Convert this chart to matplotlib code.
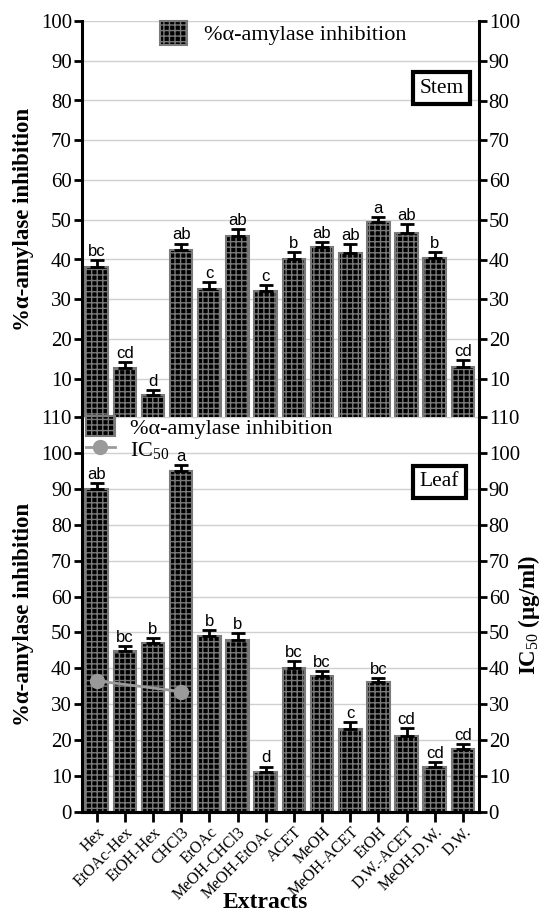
import numpy as np
import matplotlib
matplotlib.use("Agg")
import matplotlib.pyplot as plt
from matplotlib.patches import Patch
from matplotlib.lines import Line2D

extracts = ["Hex", "EtOAc-Hex", "EtOH-Hex", "CHCl3", "EtOAc", "MeOH-CHCl3",
            "MeOH-EtOAc", "ACET", "MeOH", "MeOH-ACET", "EtOH", "D.W.-ACET",
            "MeOH-D.W.", "D.W."]

stem_inhib = [38.0, 12.8, 5.8, 42.3, 32.7, 46.0, 32.2, 40.1, 43.2, 41.7, 49.5, 46.6, 40.3, 13.0]
stem_err = [1.8, 1.4, 1.4, 1.7, 1.6, 1.6, 1.4, 1.8, 1.2, 2.1, 1.2, 2.3, 1.5, 1.7]
stem_letters = ["bc", "cd", "d", "ab", "c", "ab", "c", "b", "ab", "ab", "a", "ab", "b", "cd"]

leaf_inhib = [89.9, 44.9, 47.1, 95.0, 49.0, 48.0, 11.2, 40.0, 37.9, 23.1, 36.1, 21.1, 12.4, 17.4]
leaf_err = [1.7, 1.4, 1.4, 1.7, 1.6, 1.8, 1.4, 2.0, 1.4, 2.0, 1.3, 2.3, 1.5, 1.5]
leaf_letters = ["ab", "bc", "b", "a", "b", "b", "d", "bc", "bc", "c", "bc", "cd", "cd", "cd"]

leaf_ic50 = [36.5, np.nan, np.nan, 33.5, np.nan, np.nan, np.nan, np.nan, np.nan,
             np.nan, np.nan, np.nan, np.nan, np.nan]

SERIF = "Liberation Serif"
SANS = "Liberation Sans"
plt.rcParams["font.family"] = SERIF
plt.rcParams["hatch.linewidth"] = 1.0
plt.rcParams["mathtext.fontset"] = "custom"
plt.rcParams["mathtext.rm"] = SERIF
plt.rcParams["mathtext.it"] = SERIF + ":italic"
plt.rcParams["mathtext.bf"] = SERIF + ":bold"

W, H = 541, 913
fig = plt.figure(figsize=(W / 100, H / 100), dpi=100)

X0, X1 = 81.7, 479.0
left = X0 / W
width = (X1 - X0) / W
ax_top = fig.add_axes([left, 1 - 418.5 / H, width, (418.5 - 21) / H])
ax_bot = fig.add_axes([left, 1 - 811.7 / H, width, (811.7 - 417.3) / H])

x = np.arange(len(extracts))
BAR_W = 0.8
HATCH = "+++"
GRAY = "#7a7a7a"
TICK_FS = 15
LABEL_FS = 16.5

def style_axes(ax, ymax, yticks, show_bottom):
    ax.set_xlim(-0.53, 13.57)
    ax.set_ylim(0, ymax)
    ax.set_yticks(yticks)
    ax.yaxis.grid(True, color="#d0d0d0", lw=1.0)
    ax.set_axisbelow(True)
    ax.spines["top"].set_visible(False)
    ax.spines["bottom"].set_visible(show_bottom)
    ax.spines["left"].set_linewidth(2.2)
    ax.spines["bottom"].set_linewidth(2.2)
    ax.tick_params(axis="y", direction="out", length=6, width=2, labelsize=TICK_FS, pad=1)
    ax.tick_params(axis="x", direction="out", length=7, width=2)

def draw_bars(ax, vals, errs, letters):
    ax.bar(x, vals, width=BAR_W, color="black", edgecolor=GRAY, hatch=HATCH,
           linewidth=1.5, zorder=2)
    ax.errorbar(x, vals, yerr=[np.zeros(len(vals)), errs], fmt="none",
                ecolor="black", elinewidth=2, capsize=5, capthick=2, zorder=3)
    for xi, v, e, l in zip(x, vals, errs, letters):
        ax.text(xi, v + e + 0.3, l, ha="center", va="bottom", fontsize=12,
                family=SANS, zorder=4)

def style_right(axr, ymax, yticks, show_bottom):
    axr.set_ylim(0, ymax)
    axr.set_yticks(yticks)
    axr.spines["top"].set_visible(False)
    axr.spines["left"].set_visible(False)
    axr.spines["bottom"].set_visible(show_bottom)
    axr.spines["bottom"].set_linewidth(2.2)
    axr.spines["right"].set_linewidth(2.2)
    axr.tick_params(axis="y", direction="out", length=6, width=2, labelsize=TICK_FS, pad=1)

# Top panel (Stem)
style_axes(ax_top, 100, np.arange(10, 101, 10), False)
draw_bars(ax_top, stem_inhib, stem_err, stem_letters)
ax_top.set_xticks([])
ax_top.set_ylabel("%α-amylase inhibition", fontsize=LABEL_FS, fontweight="bold")
ax_top.yaxis.set_label_coords(-(X0 - 34) / (X1 - X0), 0.5)
axr_top = ax_top.twinx()
style_right(axr_top, 100, np.arange(10, 101, 10), False)
ax_top.text(0.906, 0.831, "Stem", transform=ax_top.transAxes, ha="center", va="center",
            fontsize=15.5, bbox=dict(boxstyle="square,pad=0.3", fc="white", ec="black", lw=3))
h_bar = Patch(facecolor="black", edgecolor=GRAY, hatch=HATCH, linewidth=1.5)
ax_top.legend([h_bar], ["%α-amylase inhibition"], loc="center left",
              bbox_to_anchor=((160 - X0) / (X1 - X0), (418.5 - 33) / 397.5),
              frameon=False, fontsize=16, borderpad=0, borderaxespad=0,
              handlelength=1.2, handleheight=1.3, handletextpad=0.8)

# Bottom panel (Leaf)
style_axes(ax_bot, 110, np.arange(0, 111, 10), True)
draw_bars(ax_bot, leaf_inhib, leaf_err, leaf_letters)
ax_bot.set_xticks(x)
ax_bot.set_xticklabels(extracts, rotation=45, ha="right", rotation_mode="anchor",
                       fontsize=11.5)
ax_bot.tick_params(axis="x", pad=2)
ax_bot.set_ylabel("%α-amylase inhibition", fontsize=LABEL_FS, fontweight="bold")
ax_bot.yaxis.set_label_coords(-(X0 - 34) / (X1 - X0), 0.5)
axr_bot = ax_bot.twinx()
style_right(axr_bot, 110, np.arange(0, 111, 10), True)
axr_bot.set_ylabel("IC$_{50}$ (µg/ml)", fontsize=LABEL_FS, fontweight="bold")
axr_bot.yaxis.set_label_coords(1 + (516 - X1) / (X1 - X0), 0.5)
ic = np.array(leaf_ic50)
mask = ~np.isnan(ic)
axr_bot.plot(x[mask], ic[mask], color="#9a9a9a", lw=2, marker="o", markersize=10,
             zorder=5)
ax_bot.text(0.901, 0.836, "Leaf", transform=ax_bot.transAxes, ha="center", va="center",
            fontsize=15.5, bbox=dict(boxstyle="square,pad=0.3", fc="white", ec="black", lw=3))
h_line = Line2D([], [], color="#9a9a9a", lw=2, marker="o", markersize=10)
fig.legend([h_bar, h_line], ["%α-amylase inhibition", "IC$_{50}$"],
           loc="upper left", bbox_to_anchor=(86 / W, 1 - 416 / H),
           frameon=False, fontsize=16, handlelength=1.3, handleheight=1.0,
           handletextpad=0.7, labelspacing=0.0, borderpad=0.0, borderaxespad=0)

fig.text(265 / W, 1 - 902 / H, "Extracts", ha="center", va="center",
         fontsize=17, fontweight="bold")

fig.savefig("out.png", dpi=100)
